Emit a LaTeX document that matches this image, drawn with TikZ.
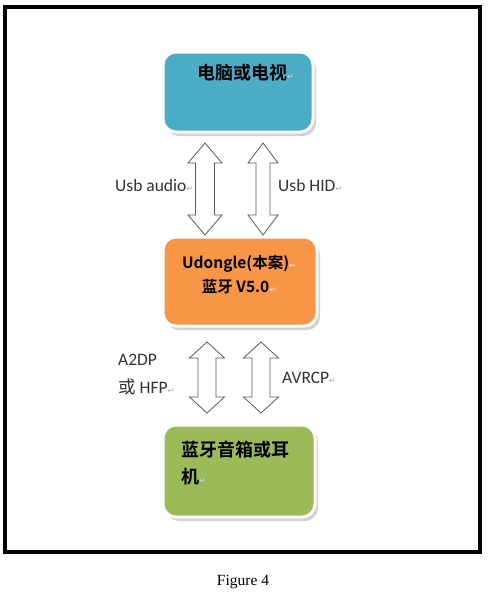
\documentclass[tikz,border=0pt]{standalone}
\usepackage{fontspec}
\setmainfont{Liberation Serif}
\newfontfamily\cjk{Noto Sans CJK SC}[BoldFont={Noto Sans CJK SC Bold}]
\newfontfamily\lab{Carlito}
\newfontfamily\symf{DejaVu Sans}
\usetikzlibrary{shadows,calc}
\definecolor{cblue}{HTML}{4BACC6}
\definecolor{corange}{HTML}{F79646}
\definecolor{cgreen}{HTML}{9BBB59}
\newcommand\ret[1][gray!70]{{\symf\fontsize{8}{8}\selectfont\color{#1}↵}}
\newcommand\dblarr[5]{%
  \draw[arrowline] let \p1=(#1), \p2=(#2) in
    (\x1,\y1) -- (\x1+#3pt,\y1-#5pt) -- (\x1+#4pt,\y1-#5pt) -- (\x1+#4pt,\y2+#5pt)
    -- (\x1+#3pt,\y2+#5pt) -- (\x1,\y2) -- (\x1-#3pt,\y2+#5pt) -- (\x1-#4pt,\y2+#5pt)
    -- (\x1-#4pt,\y1-#5pt) -- (\x1-#3pt,\y1-#5pt) -- cycle;}
\begin{document}
\begin{tikzpicture}[x=1pt,y=-1pt,
  box/.style={rectangle, rounded corners=13pt, draw=white, line width=3pt, inner sep=0pt,
    drop shadow={shadow xshift=3pt, shadow yshift=-4pt, fill=black!35}},
  boxtext/.style={inner sep=0pt, font=\cjk\bfseries\fontsize{18}{22}\selectfont},
  lbl/.style={inner sep=0pt, text=black!80, font=\lab\fontsize{17.5}{20}\selectfont},
  arrowline/.style={draw=black!65, line width=0.8pt, fill=white, line join=miter}]
\useasboundingbox (0,0) rectangle (490,598);
\draw[line width=4.5pt] (5,7) rectangle (480,552);
% boxes
\node[box, fill=cblue, minimum width=150pt, minimum height=80pt] (pc) at (238,92) {};
\node[box, fill=corange, minimum width=154pt, minimum height=89pt] (ud) at (240,281.5) {};
\node[box, fill=cgreen, minimum width=152pt, minimum height=92pt] (sp) at (239,471) {};
% box texts
\node[boxtext, anchor=west] (pct) at (197,73) {电脑或电视\ret[gray!40]};
\node[boxtext, font=\cjk\bfseries\fontsize{15.5}{24}\selectfont, align=center] (udt) at (239,275) {Udongle(本案)\ret[gray!30]\\蓝牙 V5.0\ret[gray!30]};
\node[boxtext, anchor=west] (spt1) at (181,450) {蓝牙音箱或耳};
\node[boxtext, anchor=west] (spt2) at (181,477) {机\ret[gray!40]};
% arrows
\coordinate (a1t) at (205,143); \coordinate (a1b) at (205,235);
\coordinate (a2t) at (263,143); \coordinate (a2b) at (263,235);
\coordinate (a3t) at (207,342); \coordinate (a3b) at (207,413);
\coordinate (a4t) at (261,342); \coordinate (a4b) at (261,413);
\dblarr{a1t}{a1b}{17}{9.5}{20}
\dblarr{a2t}{a2b}{15}{7}{20}
\dblarr{a3t}{a3b}{17.5}{9}{16}
\dblarr{a4t}{a4b}{17.5}{9}{16}
% labels
\node[lbl, anchor=west] (la) at (115,185) {Usb audio\ret};
\node[lbl, anchor=west] (lh) at (278,185) {Usb HID\ret};
\node[lbl, anchor=west] (l2) at (118,360) {A2DP};
\node[lbl, anchor=west] (l3) at (118,387) {{\cjk 或} HFP\ret};
\node[lbl, anchor=west] (l4) at (282,378) {AVRCP\ret};
% caption
\node[inner sep=0pt, font=\fontsize{15.5}{18}\selectfont] (cap) at (243,582) {Figure 4};
\end{tikzpicture}
\end{document}
